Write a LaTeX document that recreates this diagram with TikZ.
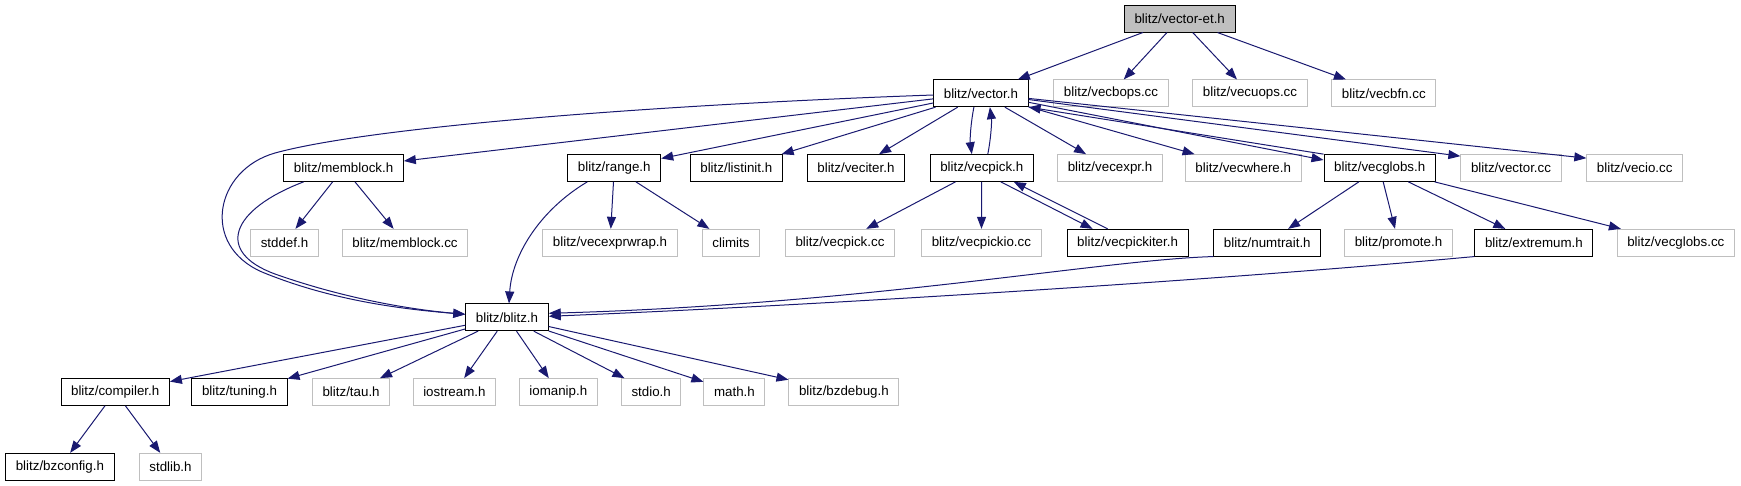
\documentclass[tikz,border=0pt]{standalone}
\usepackage{fontspec}
\setmainfont{Liberation Sans}
\usepackage{xcolor}
\usepackage{tikz}
\usetikzlibrary{arrows.meta}

\definecolor{edgeblue}{HTML}{191970}
\definecolor{boxgrey}{HTML}{BFBFBF}

\begin{document}
\begin{tikzpicture}[
        x=1pt, y=-1pt,
        every node/.style={draw, line width=1pt, font=\fontsize{13.33}{16}\selectfont,
            inner xsep=10.1pt, inner ysep=0pt, minimum height=26.7pt},
        hdr/.style={draw=black},
        ext/.style={draw=boxgrey},
        root/.style={draw=black, fill=boxgrey},
        link/.style={draw=edgeblue, line width=1pt, -{Triangle[length=12pt, width=9pt]}}
    ]
    \useasboundingbox (0,0) rectangle (1741,485);

    % Nodes
    \node[root] (vectoret) at (1179.7,18.7) {blitz/vector-et.h};

    \node[hdr] (vector) at (980.9,93.3) {blitz/vector.h};
    \node[ext] (vecbops) at (1111,93.3) {blitz/vecbops.cc};
    \node[ext] (vecuops) at (1250,93.3) {blitz/vecuops.cc};
    \node[ext] (vecbfn) at (1383.8,93.3) {blitz/vecbfn.cc};

    \node[hdr] (memblock) at (343.6,168) {blitz/memblock.h};
    \node[hdr] (range) at (614.3,168) {blitz/range.h};
    \node[hdr] (listinit) at (736.3,168) {blitz/listinit.h};
    \node[hdr] (veciter) at (855.9,168) {blitz/veciter.h};
    \node[hdr] (vecpick) at (981.8,168) {blitz/vecpick.h};
    \node[ext] (vecexpr) at (1110,168) {blitz/vecexpr.h};
    \node[ext] (vecwhere) at (1243.2,168) {blitz/vecwhere.h};
    \node[hdr] (vecglobs) at (1379.7,168) {blitz/vecglobs.h};
    \node[ext] (vectorcc) at (1511,168) {blitz/vector.cc};
    \node[ext] (vecio) at (1634.7,168) {blitz/vecio.cc};

    \node[ext] (stddef) at (284.5,242.7) {stddef.h};
    \node[ext] (memblockcc) at (405,242.7) {blitz/memblock.cc};
    \node[ext] (vecexprwrap) at (610,242.7) {blitz/vecexprwrap.h};
    \node[ext] (climits) at (731,242.7) {climits};
    \node[ext] (vecpickcc) at (840,242.7) {blitz/vecpick.cc};
    \node[ext] (vecpickio) at (981.4,242.7) {blitz/vecpickio.cc};
    \node[hdr] (vecpickiter) at (1127.6,242.7) {blitz/vecpickiter.h};
    \node[hdr] (numtrait) at (1267.3,242.7) {blitz/numtrait.h};
    \node[ext] (promote) at (1398.5,242.7) {blitz/promote.h};
    \node[hdr] (extremum) at (1533.9,242.7) {blitz/extremum.h};
    \node[ext] (vecglobscc) at (1675.8,242.7) {blitz/vecglobs.cc};

    \node[hdr] (blitz) at (507,317.3) {blitz/blitz.h};

    \node[hdr] (compiler) at (115.2,392) {blitz/compiler.h};
    \node[hdr] (tuning) at (239.5,392) {blitz/tuning.h};
    \node[ext] (tau) at (351.1,392) {blitz/tau.h};
    \node[ext] (iostream) at (454.4,392) {iostream.h};
    \node[ext] (iomanip) at (558.3,392) {iomanip.h};
    \node[ext] (stdio) at (651.2,392) {stdio.h};
    \node[ext] (math) at (734.4,392) {math.h};
    \node[ext] (bzdebug) at (843.9,392) {blitz/bzdebug.h};

    \node[hdr] (bzconfig) at (59.9,466.7) {blitz/bzconfig.h};
    \node[ext] (stdlib) at (170.5,466.7) {stdlib.h};

    % Edges
    \draw[link] (vectoret) -- (vector);
    \draw[link] (vectoret) -- (vecbops);
    \draw[link] (vectoret) -- (vecuops);
    \draw[link] (vectoret) -- (vecbfn);

    \draw[link] ([yshift=-1.7pt]vector.west) .. controls (650,105) and (370,127) .. (275,153)
        .. controls (215,170) and (200,245) .. (262,272)
        .. controls (330,300) and (400,309) .. ([yshift=3pt]blitz.west);
    \draw[link] (vector) -- (memblock);
    \draw[link] (vector) -- (range);
    \draw[link] (vector) -- (listinit);
    \draw[link] (vector) -- (veciter);
    \draw[link] ([xshift=-7pt]vector.south) .. controls +(-3,15) and +(-2,-15) .. ([xshift=-10pt]vecpick.north);
    \draw[link] ([xshift=6pt]vecpick.north) .. controls +(3,-15) and +(2,15) .. ([xshift=9pt]vector.south);
    \draw[link] (vector) -- (vecexpr);
    \draw[link] (vector) -- (vecwhere);
    \draw[link] ([yshift=-9pt]vector.east) -- ([yshift=8pt]vecglobs.west);
    \draw[link] (vecglobs.north west) -- (vector.south east);
    \draw[link] (vector) -- ([yshift=-2pt]vectorcc.north west);
    \draw[link] (vector) -- ([yshift=-4pt]vecio.north west);

    \draw[link] ([xshift=-40pt]memblock.south) .. controls (230,210) and (215,252) .. (275,274)
        .. controls (340,297) and (405,309) .. ([yshift=3pt]blitz.west);
    \draw[link] (memblock) -- (stddef);
    \draw[link] (memblock) -- (memblockcc);

    \draw[link] ([xshift=-27pt]range.south) .. controls (540,210) and (512,255) .. ([xshift=2pt]blitz.north);
    \draw[link] (range) -- (vecexprwrap);
    \draw[link] (range) -- (climits);

    \draw[link] (vecpick) -- (vecpickcc);
    \draw[link] (vecpick) -- (vecpickio);
    \draw[link] ([xshift=19pt]vecpick.south) -- ([xshift=-35pt]vecpickiter.north);
    \draw[link] ([xshift=-20pt]vecpickiter.north) -- ([xshift=32pt]vecpick.south);

    \draw[link] (vecglobs) -- (numtrait);
    \draw[link] (vecglobs) -- (promote);
    \draw[link] (vecglobs) -- (extremum);
    \draw[link] (vecglobs) -- (vecglobscc);

    \draw[link] (numtrait.south west) .. controls (1100,260) and (870,304) .. ([yshift=4pt]blitz.east);
    \draw[link] (extremum.south west) .. controls (1200,282) and (800,306) .. ([yshift=1pt]blitz.east);

    \draw[link] (blitz) -- (compiler);
    \draw[link] (blitz) -- (tuning);
    \draw[link] (blitz) -- (tau);
    \draw[link] (blitz) -- (iostream);
    \draw[link] (blitz) -- (iomanip);
    \draw[link] (blitz) -- (stdio);
    \draw[link] (blitz) -- (math);
    \draw[link] (blitz) -- (bzdebug);

    \draw[link] (compiler) -- (bzconfig);
    \draw[link] (compiler) -- (stdlib);
\end{tikzpicture}
\end{document}
